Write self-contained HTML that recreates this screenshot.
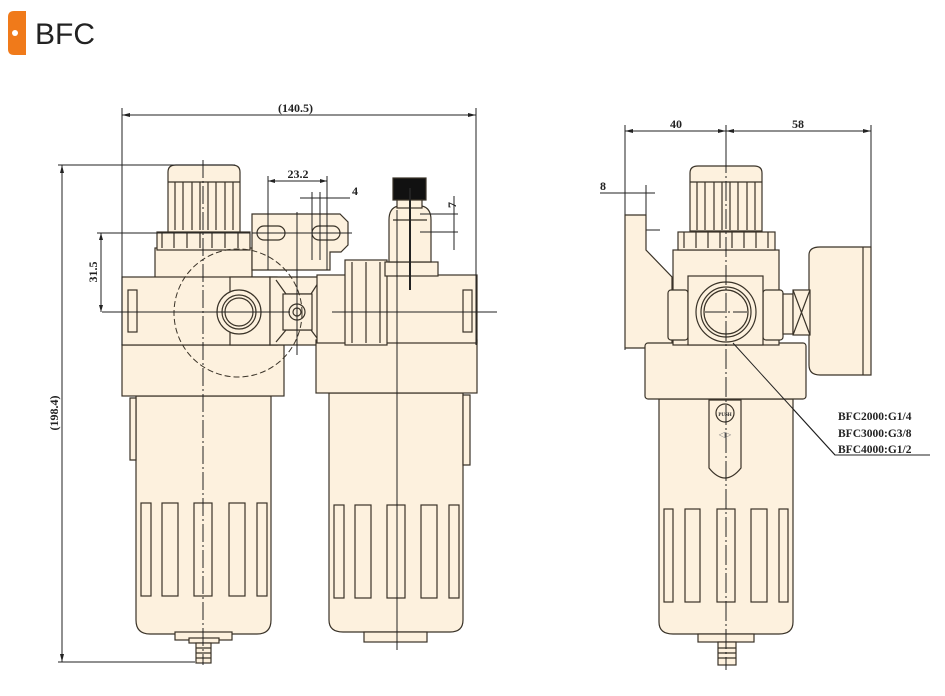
<!DOCTYPE html>
<html><head><meta charset="utf-8"><style>
html,body{margin:0;padding:0;background:#fff;width:945px;height:696px;overflow:hidden}
svg{display:block}
</style></head><body>
<svg width="945" height="696" viewBox="0 0 945 696" xmlns="http://www.w3.org/2000/svg">
<!-- header -->
<path d="M14 11 H26 V55 H14 Q8 55 8 49 V17 Q8 11 14 11Z" fill="#f07a1a"/>
<circle cx="15" cy="33" r="3" fill="#fff"/>
<text x="35" y="44" font-family="Liberation Sans, sans-serif" font-size="30" fill="#222">BFC</text>

<g stroke="#3a3328" stroke-width="1.2" fill="#fdf1de">
<!-- LEFT UNIT: filter regulator -->
<rect x="122" y="392" width="0" height="0"/>
<path d="M136 396 V620 Q136 634 150 634 H257 Q271 634 271 620 V396Z"/>
<path d="M130 398 H136 V460 H130Z" />
<rect x="175" y="632" width="57" height="8"/>
<rect x="189" y="638" width="30" height="5"/>
<rect x="196" y="643" width="15" height="20"/>
<g fill="none"><path d="M196 648H211M196 653H211M196 658H211"/></g>
<g fill="none"><rect x="141" y="503" width="10" height="93"/><rect x="162" y="503" width="16" height="93"/><rect x="194" y="503" width="18" height="93"/><rect x="229" y="503" width="16" height="93"/><rect x="257" y="503" width="10" height="93"/></g>
<rect x="122" y="345" width="162" height="51"/>
<rect x="155" y="248" width="97" height="32"/>
<rect x="157" y="232" width="93" height="18"/>
<g fill="none"><path d="M162 232V248M174 232V248M187 232V248M200 232V248M212 232V248M225 232V248M238 232V248"/></g>
<path d="M168 232 V172 Q168 165 176 165 H232 Q240 165 240 172 V232Z"/>
<g fill="none"><path d="M168 182H240M175 182V230M183 182V230M192 182V230M200 182V230M208 182V230M216 182V230M225 182V230M233 182V230"/></g>
<rect x="122" y="277" width="155" height="68"/>
<rect x="128" y="290" width="9" height="42" fill="none"/>
<rect x="230" y="277" width="40" height="68"/>
<circle cx="239" cy="312" r="22"/>
<circle cx="239" cy="312" r="17"/>
<circle cx="239" cy="312" r="14" fill="none"/>
<!-- middle connector -->
<path d="M270 277 H325 V345 H270Z"/>
<path d="M276 280 L286 294 H311 L320 280 M276 342 L286 330 H311 L320 342" fill="none"/>
<rect x="283" y="294" width="29" height="36"/>
<circle cx="297" cy="312" r="8"/><circle cx="297" cy="312" r="4" fill="none"/>
<!-- bracket -->
<path d="M252 214 H340 L348 222 V245 L341 252 H330 V270 H252 Z"/>
<rect x="257" y="226" width="28" height="14" rx="7"/>
<rect x="312" y="226" width="28" height="14" rx="7"/>
<!-- RIGHT UNIT: lubricator -->
<path d="M329 393 V620 Q329 632 343 632 H450 Q463 632 463 620 V393Z"/>
<path d="M463 395 H470 V465 H463Z"/>
<rect x="364" y="632" width="63" height="10"/>
<g fill="none"><rect x="334" y="505" width="10" height="93"/><rect x="355" y="505" width="16" height="93"/><rect x="387" y="505" width="18" height="93"/><rect x="421" y="505" width="16" height="93"/><rect x="449" y="505" width="10" height="93"/></g>
<rect x="316" y="340" width="161" height="53"/>
<rect x="317" y="275" width="160" height="68"/>
<rect x="463" y="290" width="9" height="42" fill="none"/>
<rect x="345" y="260" width="42" height="85"/>
<g fill="none"><path d="M352 262V343M366 262V343M380 262V343"/></g>
<rect x="385" y="262" width="53" height="14"/>
<path d="M389 262 V220 Q389 208 398 206 H422 Q431 208 431 220 V262Z"/>
<path d="M393 220 H427" fill="none"/>
<rect x="393" y="178" width="33" height="22" fill="#111"/>
<rect x="397" y="200" width="25" height="8"/>
</g>
<!-- dashed circle -->
<circle cx="238" cy="313" r="64" fill="none" stroke="#3a3328" stroke-width="1" stroke-dasharray="6 3"/>

<!-- center lines -->
<g stroke="#222" stroke-width="1" fill="none">
<path d="M203 160 V665" stroke-dasharray="18 3 2 3"/>
<path d="M397 210 V650"/>
<path d="M410 188 V290" stroke-width="2"/>
<path d="M297 212 V355"/>
<path d="M102 312 H290 M332 312 H497"/>
<!-- dimension 140.5 -->
<path d="M122 108 V345 M476 108 V345 M122 115 H476"/>
<path d="M58 165 H235 M58 662 H195 M62 165 V662"/>
<path d="M97 233 H250 M101 233 V312"/>
<path d="M268 176 V270 M327 176 V270 M268 181 H327"/>
<path d="M312 192 V260 M320 192 V260 M300 198 H350"/>
<path d="M420 214 H458 M420 232 H458 M454 196 V250"/>
<path d="M252 233 H352"/>
<!-- right view -->
<path d="M625 125 V350 M871 125 V250 M625 131 H871 M726 125 V670" />
<path d="M600 193 H655 M646 185 V220 M630 230 H660"/>
<path d="M733 343 L835 455 H930"/>
</g>
<g fill="#222">
<path d="M122 115 l8 -2 v4z M476 115 l-8 -2 v4z M62 165 l-2 8 h4z M62 662 l-2 -8 h4z M101 233 l-2 7 h4z M101 312 l-2 -7 h4z M268 181 l7 -2 v4z M327 181 l-7 -2 v4z M625 131 l8 -2 v4z M871 131 l-8 -2 v4z M726 131 l-8 -2 v4z M726 131 l8 -2 v4z"/>
</g>

<!-- right view body -->
<g stroke="#3a3328" stroke-width="1.2" fill="#fdf1de">
<path d="M659 399 V622 Q659 634 673 634 H779 Q793 634 793 622 V399Z"/>
<path d="M709 400 V468 Q725 488 741 468 V400Z" fill="none"/>
<circle cx="725" cy="413" r="9"/>
<g fill="none"><rect x="664" y="509" width="9" height="93"/><rect x="685" y="509" width="15" height="93"/><rect x="717" y="509" width="18" height="93"/><rect x="751" y="509" width="16" height="93"/><rect x="779" y="509" width="9" height="93"/></g>
<rect x="698" y="634" width="56" height="8"/>
<rect x="718" y="642" width="18" height="23"/>
<g fill="none"><path d="M718 648H736M718 653H736M718 658H736"/></g>
<path d="M625 215 H646 V250 L672 277 V348 H625Z"/>
<path d="M809 255 Q809 247 820 247 H871 V375 H820 Q809 375 809 365Z"/>
<path d="M863 247 V375" fill="none"/>
<rect x="645" y="343" width="161" height="56" rx="3"/>
<rect x="673" y="250" width="106" height="95"/>
<rect x="668" y="290" width="20" height="50" rx="3"/>
<rect x="763" y="290" width="20" height="50" rx="3"/>
<rect x="783" y="294" width="10" height="40"/>
<rect x="793" y="290" width="17" height="45"/>
<path d="M793 290 L810 335 M810 290 L793 335" fill="none"/>
<rect x="688" y="276" width="75" height="69"/>
<circle cx="726" cy="312" r="30"/><circle cx="726" cy="312" r="25"/><circle cx="726" cy="312" r="22" fill="none"/>
<rect x="678" y="232" width="97" height="18"/>
<g fill="none"><path d="M684 232V248M696 232V248M708 232V248M720 232V248M732 232V248M744 232V248M756 232V248M768 232V248"/></g>
<path d="M690 231 V173 Q690 166 698 166 H754 Q762 166 762 173 V231Z"/>
<g fill="none"><path d="M690 182H762M697 182V230M705 182V230M714 182V230M722 182V230M730 182V230M738 182V230M747 182V230M755 182V230"/></g>
</g>
<path d="M726 125 V670 M705 312 H747" stroke="#222" stroke-width="1" stroke-dasharray="20 3 2 3" fill="none"/>
<path d="M733 343 L835 455" stroke="#222" fill="none"/>
<text x="725" y="416" font-family="Liberation Serif, serif" font-size="5" font-weight="bold" text-anchor="middle" fill="#222">PUSH</text>
<text x="725" y="437" font-family="DejaVu Sans, sans-serif" font-size="8" text-anchor="middle" fill="#777">◁▷</text>

<g font-family="Liberation Serif, serif" font-weight="bold" fill="#222">
<text x="298" y="178" font-size="12" text-anchor="middle">23.2</text>
<text x="355" y="195" font-size="12" text-anchor="middle">4</text>
<text x="278" y="112" font-size="12">(140.5)</text>
<text transform="translate(97,272) rotate(-90)" font-size="12" text-anchor="middle">31.5</text>
<text transform="translate(58,413) rotate(-90)" font-size="12" text-anchor="middle">(198.4)</text>
<text transform="translate(456,205) rotate(-90)" font-size="12" text-anchor="middle">7</text>
<text x="676" y="128" font-size="12" text-anchor="middle">40</text>
<text x="798" y="128" font-size="12" text-anchor="middle">58</text>
<text x="600" y="190" font-size="12">8</text>
<text x="838" y="420" font-size="11.5">BFC2000:G1/4</text>
<text x="838" y="437" font-size="11.5">BFC3000:G3/8</text>
<text x="838" y="453" font-size="11.5">BFC4000:G1/2</text>
</g>
</svg>
</body></html>
